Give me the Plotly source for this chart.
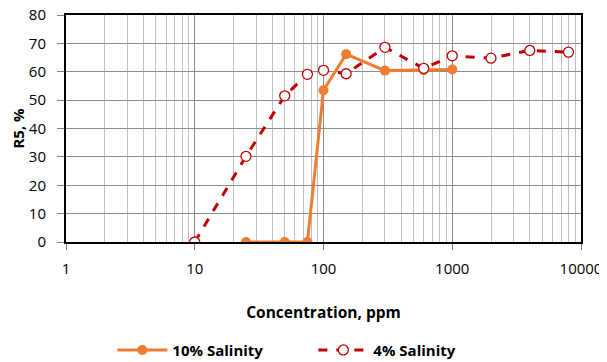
import plotly.graph_objects as go

# Data
conc_10 = [25, 50, 75, 100, 150, 300, 600, 1000]
r5_10 = [0, 0, 0, 53.5, 66.2, 60.4, 60.5, 60.8]

conc_4 = [10, 25, 50, 75, 100, 150, 300, 600, 1000, 2000, 4000, 8000]
r5_4 = [0, 30.2, 51.5, 59.1, 60.5, 59.3, 68.6, 61.2, 65.6, 64.8, 67.5, 66.9]

x_tickvals = [1, 10, 100, 1000, 10000]
x_ticktext = ["1", "10", "100", "1000", "10000"]
minor_vals = [m * d for d in [1, 10, 100, 1000] for m in range(2, 10)]

FONT = "Open Sans"

fig = go.Figure()
fig.add_trace(go.Scatter(
    x=conc_10, y=r5_10, name="10% Salinity", mode="lines+markers",
    line=dict(color="#ED7D31", width=3),
    marker=dict(symbol="circle", size=10, color="#ED7D31"),
))
fig.add_trace(go.Scatter(
    x=conc_4, y=r5_4, name="4% Salinity", mode="lines+markers",
    line=dict(color="#C00000", width=3, dash="dash"),
    marker=dict(symbol="circle", size=10, color="white",
                line=dict(color="#C00000", width=1.3)),
))

fig.update_layout(
    width=599, height=354,
    margin=dict(l=58, r=26, t=7, b=120, autoexpand=False),
    paper_bgcolor="white", plot_bgcolor="white",
    font=dict(family=FONT, size=15, color="black"),
    showlegend=True,
    legend=dict(orientation="h", x=0.09, xanchor="left", y=-0.404, yanchor="top",
                font=dict(family=FONT, size=15, color="black", weight="bold"),
                entrywidth=136, entrywidthmode="pixels", itemwidth=50),
)
fig.update_xaxes(
    type="log", range=[0, 4], automargin=False,
    tickvals=x_tickvals, ticktext=x_ticktext,
    ticks="outside", ticklen=6, tickcolor="#808080",
    ticklabelstandoff=6, ticklabeloverflow="allow",
    showgrid=True, gridcolor="#8c8c8c", gridwidth=1,
    minor=dict(tickvals=minor_vals, showgrid=True, gridcolor="#bfbfbf", gridwidth=1, ticks=""),
    showline=True, linecolor="black", linewidth=2, mirror=True,
    title=dict(text="Concentration, ppm", font=dict(family=FONT, size=15.5, weight="bold"), standoff=30),
    tickfont=dict(family=FONT, size=15),
)
fig.update_yaxes(
    range=[0, 80], dtick=10, automargin=False,
    ticks="outside", ticklen=7, tickcolor="#808080",
    ticklabelstandoff=8, ticklabeloverflow="allow",
    showgrid=True, gridcolor="#8c8c8c", gridwidth=1,
    showline=True, linecolor="black", linewidth=2, mirror=True,
    zeroline=False,
    title=dict(text="R5, %", font=dict(family=FONT, size=15, weight="bold"), standoff=1),
    tickfont=dict(family=FONT, size=15),
)

fig.write_html("out.html")
